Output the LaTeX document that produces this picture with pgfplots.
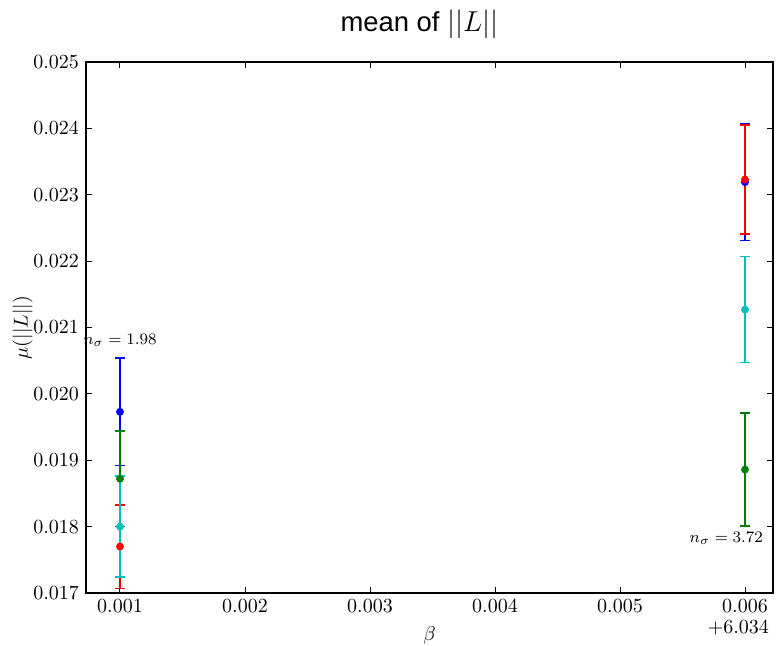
\documentclass[border=0pt]{standalone}
\usepackage{fontspec}
\usepackage{pgfplots}
\pgfplotsset{compat=1.18}
\newfontfamily\titlefont{Liberation Sans}
\definecolor{mplb}{rgb}{0,0,1}
\definecolor{mplg}{rgb}{0,0.5,0}
\definecolor{mplr}{rgb}{1,0,0}
\definecolor{mplc}{rgb}{0,0.75,0.75}
\begin{document}
\begin{tikzpicture}
\useasboundingbox (-43pt,-26.5pt) rectangle (345pt,296.5pt);
\begin{axis}[
  at={(0,0)}, anchor=south west,
  scale only axis, width=343.5pt, height=265.5pt,
  clip=false,
  xmin=0.000728, xmax=0.006224, ymin=0.017, ymax=0.025,
  xtick={0.001,0.002,0.003,0.004,0.005,0.006},
  ytick={0.017,0.018,0.019,0.020,0.021,0.022,0.023,0.024,0.025},
  scaled ticks=false,
  xticklabel style={/pgf/number format/.cd,fixed,fixed zerofill,precision=3},
  yticklabel style={/pgf/number format/.cd,fixed,fixed zerofill,precision=3},
  tick align=inside,
  major tick length=3pt,
  tick style={black, line width=0.5pt},
  axis line style={line width=0.8pt},
  xlabel={$\beta$}, ylabel={$\mu(||L||)$},
  ylabel shift=-6.5pt,
  title={\titlefont\fontsize{13.7}{16}\selectfont mean of $||L||$},
  title style={yshift=2pt, xshift=-5pt},
  error bars/y dir=both, error bars/y explicit,
  error bars/error bar style={line width=0.8pt},
  error bars/error mark options={rotate=90, line width=0.8pt, mark size=2.6pt},
]
\addplot[mplb, only marks, mark=*, mark size=1.75pt] coordinates {
  (0.001,0.01973) +- (0,0.00081)
  (0.006,0.02319) +- (0,0.00088)
};
\addplot[mplr, only marks, mark=*, mark size=1.75pt] coordinates {
  (0.001,0.01770) +- (0,0.00063)
  (0.006,0.02323) +- (0,0.00082)
};
\addplot[mplg, only marks, mark=*, mark size=1.75pt] coordinates {
  (0.001,0.01872) +- (0,0.00072)
  (0.006,0.01886) +- (0,0.00085)
};
\addplot[mplc, only marks, mark=*, mark size=1.75pt] coordinates {
  (0.001,0.01800) +- (0,0.00076)
  (0.006,0.02127) +- (0,0.00080)
};
\node[font=\footnotesize] at (axis cs:0.001,0.0208) {$n_\sigma = 1.98$};
\node[font=\footnotesize, anchor=east] at (axis cs:0.0062,0.01783) {$n_\sigma = 3.72$};
\node[anchor=east, xshift=1.5pt, yshift=-17.5pt] at (rel axis cs:1,0) {$+6.034$};
\end{axis}
\end{tikzpicture}
\end{document}
